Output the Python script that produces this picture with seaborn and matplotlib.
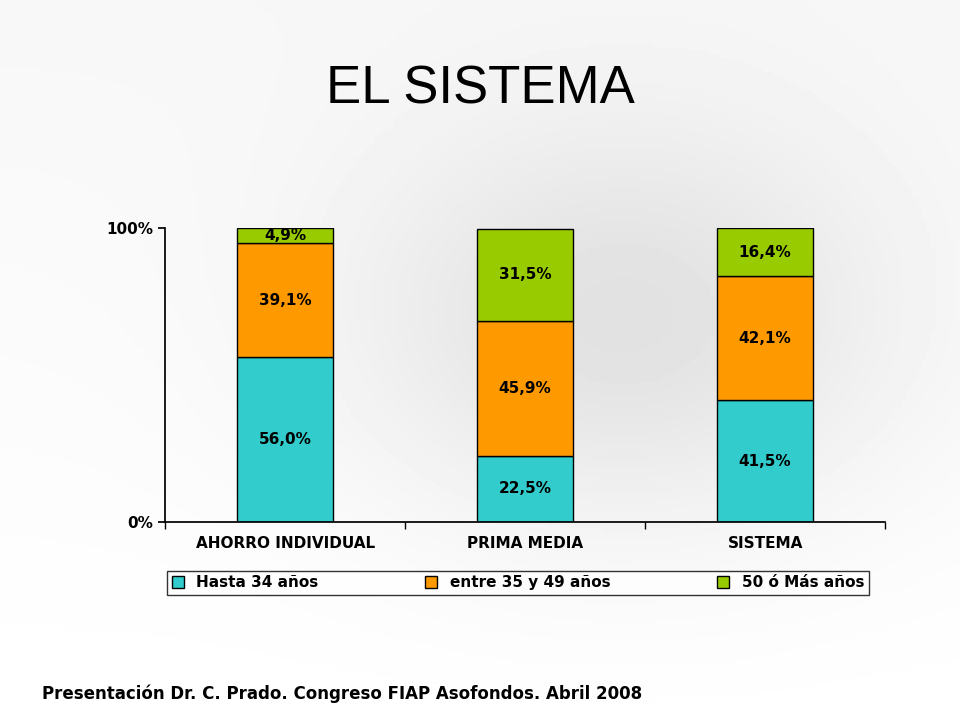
import numpy as np
import pandas as pd
import matplotlib.pyplot as plt
import seaborn as sns

# ---------- DATA ----------
categories = ["AHORRO INDIVIDUAL", "PRIMA MEDIA", "SISTEMA"]
series_names = ["Hasta 34 años", "entre 35 y 49 años", "50 ó Más años"]
hasta34 = [56.0, 22.5, 41.5]
entre35_49 = [39.1, 45.9, 42.1]
mas50 = [4.9, 31.5, 16.4]
colors = ["#33CCCC", "#FF9900", "#99CC00"]
# --------------------------

sns.set_theme(style="white", rc={"text.color": "black", "xtick.color": "black",
                                 "ytick.color": "black"})
fig = plt.figure(figsize=(9.6, 7.2), dpi=100)

# soft grey background
bg = fig.add_axes([0, 0, 1, 1], zorder=-1)
yy, xx = np.mgrid[0:1:200j, 0:1:200j]
grad = 0.97 - 0.10 * np.exp(-((xx - 0.65) ** 2 + (yy - 0.45) ** 2) / 0.08)
grad = np.clip(grad + 0.03 * yy, 0, 1)
bg.imshow(grad, cmap="gray", vmin=0, vmax=1, aspect="auto", extent=[0, 1, 0, 1])
bg.axis("off")

ax = fig.add_axes([0.172, 0.275, 0.750, 0.408])
ax.patch.set_alpha(0)

layers = [hasta34, entre35_49, mas50]
bottom = np.zeros(len(categories))
for name, vals, c in zip(series_names, layers, colors):
    df = pd.DataFrame({"cat": categories, "val": vals})
    sns.barplot(data=df, x="cat", y="val", ax=ax, color=c, width=0.4,
                bottom=bottom, edgecolor="black", linewidth=1, label=name,
                saturation=1)
    for i, v in enumerate(vals):
        ax.text(i, bottom[i] + v / 2, f"{v:.1f}%".replace(".", ","),
                ha="center", va="center", fontsize=11, fontweight="bold")
    bottom = bottom + np.array(vals)

ax.set_ylim(0, 100)
ax.set_xlim(-0.5, 2.5)
ax.set_yticks([0, 100])
ax.set_yticklabels(["0%", "100%"], fontsize=11, fontweight="bold")
ax.set_xticks([0, 1, 2])
ax.set_xticklabels(categories, fontsize=11, fontweight="bold")
ax.set_xlabel("")
ax.set_ylabel("")
for s in ["top", "right"]:
    ax.spines[s].set_visible(False)
for s in ["left", "bottom"]:
    ax.spines[s].set_color("black")
ax.tick_params(axis="y", direction="out", length=5, color="black", left=True)
ax.tick_params(axis="x", length=0, pad=10)
ax.set_xticks([-0.5, 0.5, 1.5, 2.5], minor=True)
ax.tick_params(axis="x", which="minor", direction="out", length=5, color="black", bottom=True)

leg = ax.legend(loc="upper center", bbox_to_anchor=(0.49, -0.14), ncol=3,
                frameon=True, fancybox=False, edgecolor="black",
                prop={"weight": "bold", "size": 11}, handlelength=0.8,
                handleheight=0.8, columnspacing=7, borderpad=0.3)
leg.get_frame().set_facecolor("white")

fig.text(0.5, 0.875, "EL SISTEMA", ha="center", va="center", fontsize=38,
         family="Liberation Sans")
fig.text(0.044, 0.037, "Presentación Dr. C. Prado. Congreso FIAP Asofondos. Abril 2008",
         ha="left", va="center", fontsize=12, fontweight="bold")

fig.savefig("out.png", dpi=100)
